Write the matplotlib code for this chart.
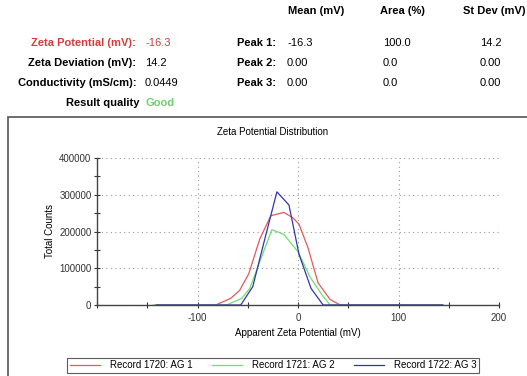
import matplotlib
matplotlib.use("Agg")
import matplotlib.pyplot as plt
from matplotlib.patches import Rectangle
from matplotlib.ticker import MultipleLocator

plt.rcParams['font.family'] = ['Liberation Sans', 'DejaVu Sans']
plt.rcParams['axes.unicode_minus'] = False

# curves (mV, counts)
x_1720 = [-141, -82, -67, -58, -49, -38, -27, -14, -5, 1, 10, 20, 32, 42, 144]
y_1720 = [0, 0, 18000, 40000, 85000, 180000, 243000, 252000, 237000, 220000, 155000, 60000, 15000, 0, 0]

x_1721 = [-144, -71, -56, -48, -37, -26, -14, 0, 12, 24, 32, 144]
y_1721 = [0, 0, 18000, 45000, 125000, 205000, 192000, 145000, 76000, 27000, 0, 0]

x_1722 = [-141, -57, -45, -33, -21, -9, 1, 13, 25, 144]
y_1722 = [0, 0, 50000, 180000, 308000, 272000, 138000, 45000, 0, 0]

labels = ["Record 1720: AG 1", "Record 1721: AG 2", "Record 1722: AG 3"]
colors = ["#e05a5a", "#6ee06e", "#3434b0"]

summary_labels = ["Zeta Potential (mV):", "Zeta Deviation (mV):", "Conductivity (mS/cm):"]
summary_values = ["-16.3", "14.2", "0.0449"]
peak_names = ["Peak 1:", "Peak 2:", "Peak 3:"]
peak_mean = ["-16.3", "0.00", "0.00"]
peak_area = ["100.0", "0.0", "0.0"]
peak_sd = ["14.2", "0.00", "0.00"]

W, H = 527, 376
fig = plt.figure(figsize=(W / 100, H / 100), dpi=100)


def fx(px):
    return px / W


def fy(py):
    return 1 - py / H


# results table at the top
fs = 8
fig.text(fx(288), fy(11), "Mean (mV)", fontsize=fs, weight="bold", va="center")
fig.text(fx(380), fy(11), "Area (%)", fontsize=fs, weight="bold", va="center")
fig.text(fx(463), fy(11), "St Dev (mV)", fontsize=fs, weight="bold", va="center")

rows = [43, 63, 83]
for i, r in enumerate(rows):
    c = "#d43c3c" if i == 0 else "black"
    fig.text(fx(136), fy(r), summary_labels[i], fontsize=fs, weight="bold", ha="right", va="center", color=c)
    fig.text(fx(145), fy(r), summary_values[i], fontsize=fs, va="center", color=c)
    fig.text(fx(237), fy(r), peak_names[i], fontsize=fs, weight="bold", va="center")
    fig.text(fx(287), fy(r), peak_mean[i], fontsize=fs, va="center")
    fig.text(fx(383), fy(r), peak_area[i], fontsize=fs, va="center")
    fig.text(fx(480), fy(r), peak_sd[i], fontsize=fs, va="center")
fig.text(fx(140), fy(103), "Result quality", fontsize=fs, weight="bold", ha="right", va="center")
fig.text(fx(145), fy(103), "Good", fontsize=fs, weight="bold", va="center", color="#70cc70")

# frame around the graph
fig.patches.append(Rectangle((fx(8), -0.1), 1.0, fy(117) + 0.1, transform=fig.transFigure,
                             fill=False, edgecolor="#555555", linewidth=1.2))

fig.text(fx(273), fy(132), "Zeta Potential Distribution", fontsize=7, ha="center", va="center")

ax = fig.add_axes([fx(97), fy(305), fx(499) - fx(97), fy(158) - fy(305)])
ax.plot(x_1720, y_1720, color=colors[0], lw=0.9, label=labels[0])
ax.plot(x_1721, y_1721, color=colors[1], lw=0.9, label=labels[1])
ax.plot(x_1722, y_1722, color=colors[2], lw=0.9, label=labels[2])

ax.set_xlim(-200, 200)
ax.set_ylim(0, 400000)
ax.set_xticks([-100, 0, 100, 200])
ax.set_yticks([0, 100000, 200000, 300000, 400000])
ax.xaxis.set_minor_locator(MultipleLocator(50))
ax.yaxis.set_minor_locator(MultipleLocator(50000))
ax.tick_params(which="both", direction="inout", length=5, width=0.8, labelsize=7, colors="#333333")
ax.tick_params(axis="y", pad=1.5)
ax.grid(True, which="major", color="#999999", linestyle=(0, (1, 3)), linewidth=0.8)
for s in ["top", "right"]:
    ax.spines[s].set_visible(False)
for s in ["left", "bottom"]:
    ax.spines[s].set_color("#444444")
    ax.spines[s].set_linewidth(1.0)
ax.set_xlabel("Apparent Zeta Potential (mV)", fontsize=7, labelpad=3)
ax.set_ylabel("Total Counts", fontsize=7, labelpad=3)

leg = ax.legend(loc="center", bbox_to_anchor=(fx(273), fy(365.5)), bbox_transform=fig.transFigure,
                ncol=3, fontsize=7, frameon=True, fancybox=False, handlelength=3.1,
                columnspacing=2.0, borderpad=0.25, handletextpad=1.0, borderaxespad=0)
leg.get_frame().set_edgecolor("#333333")
leg.get_frame().set_linewidth(0.8)

fig.savefig("out.png", dpi=100)
